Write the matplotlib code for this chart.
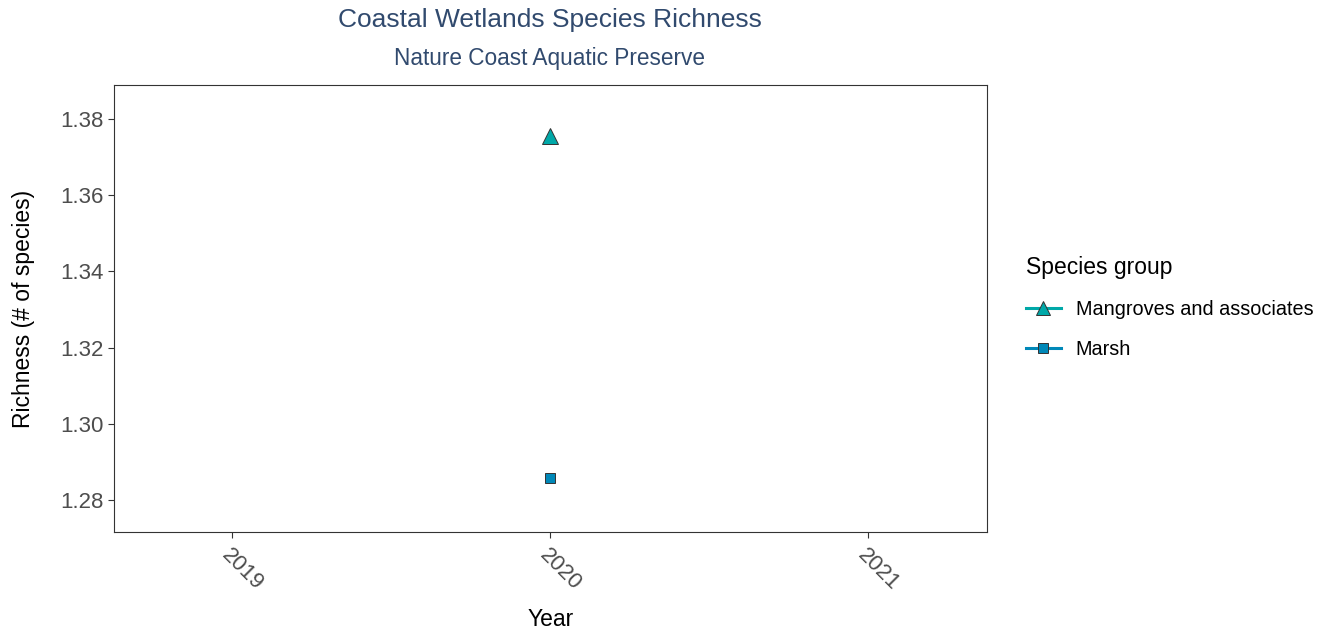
import matplotlib.pyplot as plt
from matplotlib.lines import Line2D

plt.rcParams['font.family'] = ['Liberation Sans', 'DejaVu Sans']

# richness by species group
groups = ['Mangroves and associates', 'Marsh']
years = [2020, 2020]
richness = [1.3755, 1.2857]
markers = ['^', 's']
colors = ['#00A8A8', '#0088B8']
xticks = [2019, 2020, 2021]
yticks = [1.28, 1.30, 1.32, 1.34, 1.36, 1.38]

fig = plt.figure(figsize=(13.29, 6.35), dpi=100)
ax = fig.add_axes([114/1329, 1 - 532/635, (987-114)/1329, (532-85)/635])

for g, x, y, mk, c in zip(groups, years, richness, markers, colors):
    ax.plot([x], [y], marker=mk, linestyle='none', markersize=12 if mk == '^' else 7.5,
            markerfacecolor=c, markeredgecolor='#333333', markeredgewidth=0.7)

ax.set_xlim(2018.629, 2021.374)
ax.set_ylim(1.2716, 1.3889)
ax.set_xticks(xticks)
ax.set_xticklabels([str(t) for t in xticks], rotation=-45, ha='left', va='top',
                   rotation_mode='anchor', fontsize=16, color='#4D4D4D')
ax.set_yticks(yticks)
ax.set_yticklabels([f'{t:.2f}' for t in yticks], fontsize=16, color='#4D4D4D')
ax.tick_params(axis='both', length=4, width=0.8, color='#333333')
ax.tick_params(axis='x', pad=5)
for s in ax.spines.values():
    s.set_color('#333333')
    s.set_linewidth(0.8)

ax.set_xlabel('Year', fontsize=16.5, labelpad=10)
ax.set_ylabel('Richness (# of species)', fontsize=16.5, labelpad=18)

fig.text(550/1329, 1 - 20/635, 'Coastal Wetlands Species Richness', ha='center', va='center',
         fontsize=19, color='#314A6E')
fig.text(550/1329, 1 - 58/635, 'Nature Coast Aquatic Preserve', ha='center', va='center',
         fontsize=16.3, color='#314A6E')

handles = [Line2D([0], [0], color=c, linewidth=2.2, marker=mk, markersize=10 if mk == '^' else 6.5,
                  markerfacecolor=c, markeredgecolor='#333333', markeredgewidth=0.7)
           for mk, c in zip(markers, colors)]
leg = fig.legend(handles, groups, title='Species group', loc='upper left',
                 bbox_to_anchor=(1008/1329, 1 - 238/635), frameon=False,
                 fontsize=14.3, title_fontsize=16.5, handlelength=1.75,
                 labelspacing=1.05, handletextpad=0.75)
leg._legend_box.align = 'left'

fig.savefig('out.png', dpi=100)
